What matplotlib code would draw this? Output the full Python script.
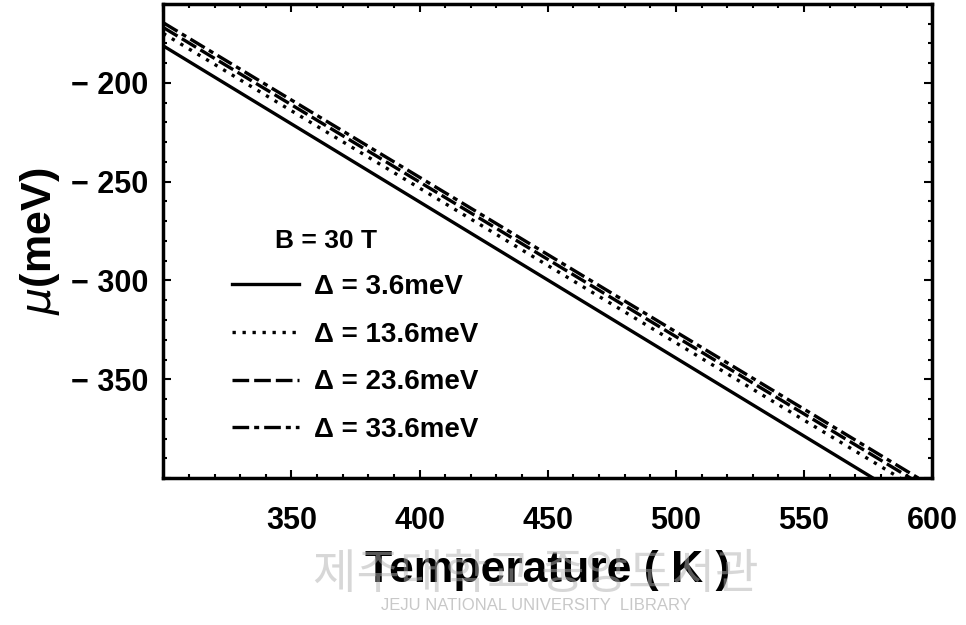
import matplotlib
matplotlib.use('Agg')
import matplotlib.pyplot as plt
from matplotlib.ticker import MultipleLocator, FuncFormatter

plt.rcParams['font.family'] = ['Liberation Sans', 'DejaVu Sans']

# Datos: extremos de cada recta mu(T)
temperatura = [300, 600]
mu_36 = [-181.3, -418.2]
mu_136 = [-175.0, -409.8]
mu_236 = [-172.0, -406.6]
mu_336 = [-169.6, -404.2]
etiquetas = ['Δ = 3.6meV', 'Δ = 13.6meV', 'Δ = 23.6meV', 'Δ = 33.6meV']
estilos = ['-', (0, (1, 2)), (0, (5, 1.5)), (0, (5, 1.5, 1.5, 1.5))]

fig = plt.figure(figsize=(9.66, 6.25), dpi=100)
ax = fig.add_axes([0.169, 0.235, 0.796, 0.759])

for mu, lab, ls in zip([mu_36, mu_136, mu_236, mu_336], etiquetas, estilos):
    ax.plot(temperatura, mu, color='black', linestyle=ls, linewidth=2.4, label=lab)

ax.set_xlim(300, 600)
ax.set_ylim(-400, -160)
ax.xaxis.set_major_locator(MultipleLocator(50))
ax.xaxis.set_minor_locator(MultipleLocator(10))
ax.yaxis.set_major_locator(MultipleLocator(50))
ax.yaxis.set_minor_locator(MultipleLocator(10))
ax.xaxis.set_major_formatter(FuncFormatter(lambda v, p: '' if v <= 300 else f'{v:.0f}'))
ax.yaxis.set_major_formatter(FuncFormatter(lambda v, p: '' if v <= -400 else f'\u2212 {abs(v):.0f}'))
ax.tick_params(which='both', direction='in', top=True, right=True, width=1.5)
ax.tick_params(which='major', length=6, labelsize=22)
ax.tick_params(axis='x', which='major', pad=20)
ax.tick_params(axis='y', which='major', pad=11)
ax.tick_params(which='minor', length=3)
for lab in ax.get_xticklabels() + ax.get_yticklabels():
    lab.set_fontweight('bold')
for s in ax.spines.values():
    s.set_linewidth(2.5)

ax.set_xlabel('Temperature ( K )', fontsize=32, fontweight='bold', labelpad=10)
ax.set_ylabel(r'$\mu$(meV)', fontsize=31, fontweight='bold', labelpad=6)

# Leyenda
ax.text(0.145, 0.50, 'B = 30 T', transform=ax.transAxes, fontsize=19, fontweight='bold',
        va='center', ha='left')
leg = ax.legend(loc='upper left', bbox_to_anchor=(0.09, 0.43), frameon=False,
                borderpad=0, borderaxespad=0, handlelength=2.4, handletextpad=0.55,
                labelspacing=0.78, prop={'size': 20, 'weight': 'bold'})

# Marca de agua
fig.text(0.555, 0.08, '제주대학교 중앙도서관', fontsize=34, color='#b0b0b0', alpha=0.5,
         ha='center', va='center', family=['Noto Sans CJK KR', 'DejaVu Sans'], zorder=0)
fig.text(0.555, 0.032, 'JEJU NATIONAL UNIVERSITY  LIBRARY', fontsize=12, color='#c8c8c8',
         ha='center', va='center', zorder=0)

fig.savefig('out.png', dpi=100)
